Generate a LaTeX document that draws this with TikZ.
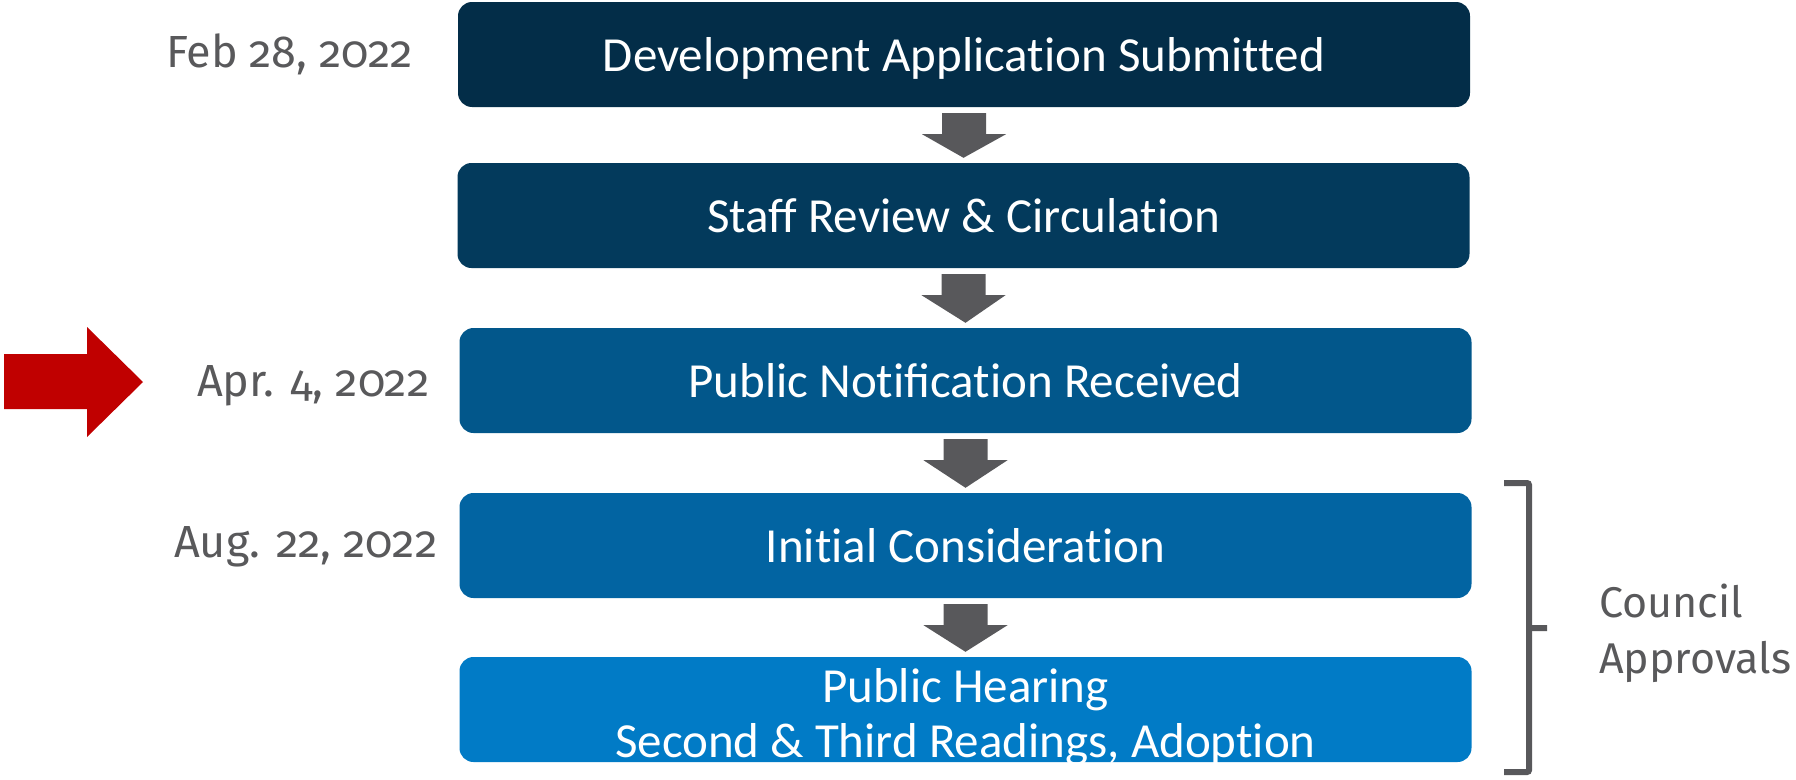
\documentclass[tikz,border=0pt]{standalone}
\usepackage{fontspec}
\setmainfont{Carlito}
\newfontfamily\labelfont[Numbers=OldStyle]{Fira Sans}
\usetikzlibrary{calc}

\definecolor{stageA}{RGB}{3,45,72}
\definecolor{stageB}{RGB}{3,58,92}
\definecolor{stageC}{RGB}{2,87,139}
\definecolor{stageD}{RGB}{2,100,162}
\definecolor{stageE}{RGB}{1,123,198}
\definecolor{flowgray}{RGB}{88,88,91}
\definecolor{labelgray}{RGB}{89,89,91}
\definecolor{markred}{RGB}{192,0,0}

% keep letter pairs such as "ti" and "tt" as separate letters
\newcommand\tiplain{t\kern0pt i}
\newcommand\ttplain{t\kern0pt t}

\tikzset{
  stage/.style={rectangle, rounded corners=14pt, minimum width=1012pt,
    minimum height=105pt, inner sep=0pt, text=white, text depth=0pt,
    font=\fontsize{49}{55}\selectfont},
  stagetext/.style={text=white, align=center, inner sep=0pt,
    font=\fontsize{49}{55}\selectfont},
  datelabel/.style={anchor=base west, inner sep=0pt, text=labelgray,
    font=\labelfont\fontsize{45}{56}\selectfont},
  grouplabel/.style={datelabel, font=\labelfont\fontsize{43}{56}\selectfont},
}

% block arrow pointing down from one stage to the next
\newcommand\flowstep[2]{%
  \fill[flowgray]
    ($(#1.south)+(-22,-6)$) -- ($(#1.south)+(22,-6)$) --
    ($(#1.south)+(22,-27)$) -- ($(#1.south)+(42,-27)$) --
    ($(#2.north)+(0,5)$) --
    ($(#1.south)+(-42,-27)$) -- ($(#1.south)+(-22,-27)$) -- cycle;}

\begin{document}
\begin{tikzpicture}[x=1pt,y=1pt]
\useasboundingbox (0,0) rectangle (1796,-779);

% process stages
\node[stage, fill=stageA] (s1) at (964,-54.5) {Development Applica\tiplain on Submi\ttplain ed};
\node[stage, fill=stageB] (s2) at (963.5,-215.5) {Staff Review \& Circula\tiplain on};
\node[stage, fill=stageC] (s3) at (965.5,-380.5) {Public No\tiplain fica\tiplain on Received};
\node[stage, fill=stageD] (s4) at (965.5,-545.5) {Ini\tiplain al Considera\tiplain on};
\node[stage, fill=stageE] (s5) at (965.5,-709.5) {};
\node[stagetext, anchor=base] (s5t) at (965.5,-757) {Public Hearing\\Second \& Third Readings, Adop\tiplain on};

% connectors between stages
\flowstep{s1}{s2}
\flowstep{s2}{s3}
\flowstep{s3}{s4}
\flowstep{s4}{s5}

% dates
\node[datelabel] (d1) at (166,-67) {Feb 28, 2022};
\node[datelabel] (d3) at (197,-396) {Apr. 4, 2022};
\node[datelabel] (d4) at (174,-557) {Aug. 22, 2022};

% current-stage marker
\fill[markred] (4,-354) -- (87,-354) -- (87,-327) -- (143,-382) --
  (87,-437) -- (87,-409) -- (4,-409) -- cycle;

% bracket grouping the council stages
\draw[flowgray, line width=6pt, rounded corners=2pt]
  (1504,-483) -| (1529,-628) -- (1547,-628);
\draw[flowgray, line width=6pt, rounded corners=2pt]
  (1529,-626) |- (1504,-772);
\node[grouplabel] (cg1) at (1599,-617) {Council};
\node[grouplabel] (cg2) at (1599,-673) {Approvals};
\end{tikzpicture}
\end{document}
